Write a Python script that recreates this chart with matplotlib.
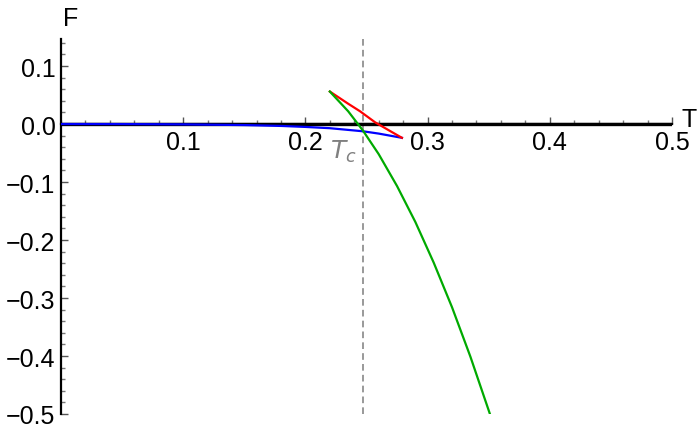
import numpy as np
import matplotlib
matplotlib.use('Agg')
import matplotlib.pyplot as plt
from matplotlib.ticker import MultipleLocator

plt.rcParams['font.family'] = ['Liberation Sans', 'DejaVu Sans']

#values
T_c = 0.2475

#small black hole branch (blue)
T_blue = [0.0, 0.05, 0.10, 0.15, 0.18, 0.20, 0.22, 0.247, 0.26, 0.279]
F_blue = [0.0, -0.0001, -0.0006, -0.0018, -0.0033, -0.005, -0.0072, -0.0125, -0.0165, -0.0238]

#intermediate branch (red)
T_red = [0.220, 0.235, 0.2447, 0.257, 0.268, 0.279]
F_red = [0.056, 0.035, 0.022, 0.003, -0.0105, -0.0238]

#large black hole branch (green)
T_green = [0.220, 0.235, 0.247, 0.260, 0.275, 0.290, 0.305, 0.320, 0.335, 0.351]
F_green = [0.056, 0.022, -0.011, -0.052, -0.107, -0.169, -0.239, -0.316, -0.401, -0.500]

#thermal background F=0 (black)
T_black = [0.0, 0.5]
F_black = [0.0, 0.0]

W, H = 700, 435
fig = plt.figure(figsize=(W/100, H/100), dpi=100)
ax = fig.add_axes([61/W, 20/H, (672-61)/W, (415-40)/H])
ax.set_xlim(0, 0.5)
ax.set_ylim(-0.5, 0.1466)

for s in ['top', 'right']:
    ax.spines[s].set_visible(False)
ax.spines['left'].set_position(('data', 0))
ax.spines['bottom'].set_position(('data', 0))
ax.spines['left'].set_linewidth(1.6)
ax.spines['bottom'].set_linewidth(1.6)

ax.xaxis.set_minor_locator(MultipleLocator(0.02))
ax.yaxis.set_minor_locator(MultipleLocator(0.02))
ax.set_xticks([0.1, 0.2, 0.3, 0.4, 0.5])
ax.set_xticklabels(['0.1', '0.2', '0.3', '0.4', '0.5'])
ax.set_yticks([-0.5, -0.4, -0.3, -0.2, -0.1, 0.0, 0.1])
ax.set_yticklabels(['\u22120.5', '\u22120.4', '\u22120.3', '\u22120.2', '\u22120.1', '0.0', '0.1'])
ax.tick_params(which='major', direction='in', length=5, width=1, color='#555555',
               labelsize=18, pad=4)
ax.tick_params(which='minor', direction='in', length=3, width=1, color='#777777')

ax.plot([T_c, T_c], [-0.5, 0.1466], color='#888888', lw=1.2, ls=(0, (4, 2.5)), zorder=1)
ax.plot(T_black, F_black, color='black', lw=2.4, zorder=2)
ax.plot(T_blue, F_blue, color='#0000ff', lw=1.6, zorder=3)
ax.plot(T_red, F_red, color='#ff0000', lw=1.6, zorder=3)
ax.plot(T_green, F_green, color='#00aa00', lw=1.6, zorder=3)

ax.text(0.231, -0.047, r'$T_c$', color='#808080', fontsize=18, ha='center', va='center',
        family='DejaVu Sans')
ax.text(0.0075, 0.182, 'F', fontsize=18, ha='center', va='center', clip_on=False)
ax.text(0.514, 0.008, 'T', fontsize=18, ha='center', va='center', clip_on=False)

fig.savefig('out.png', dpi=100)
